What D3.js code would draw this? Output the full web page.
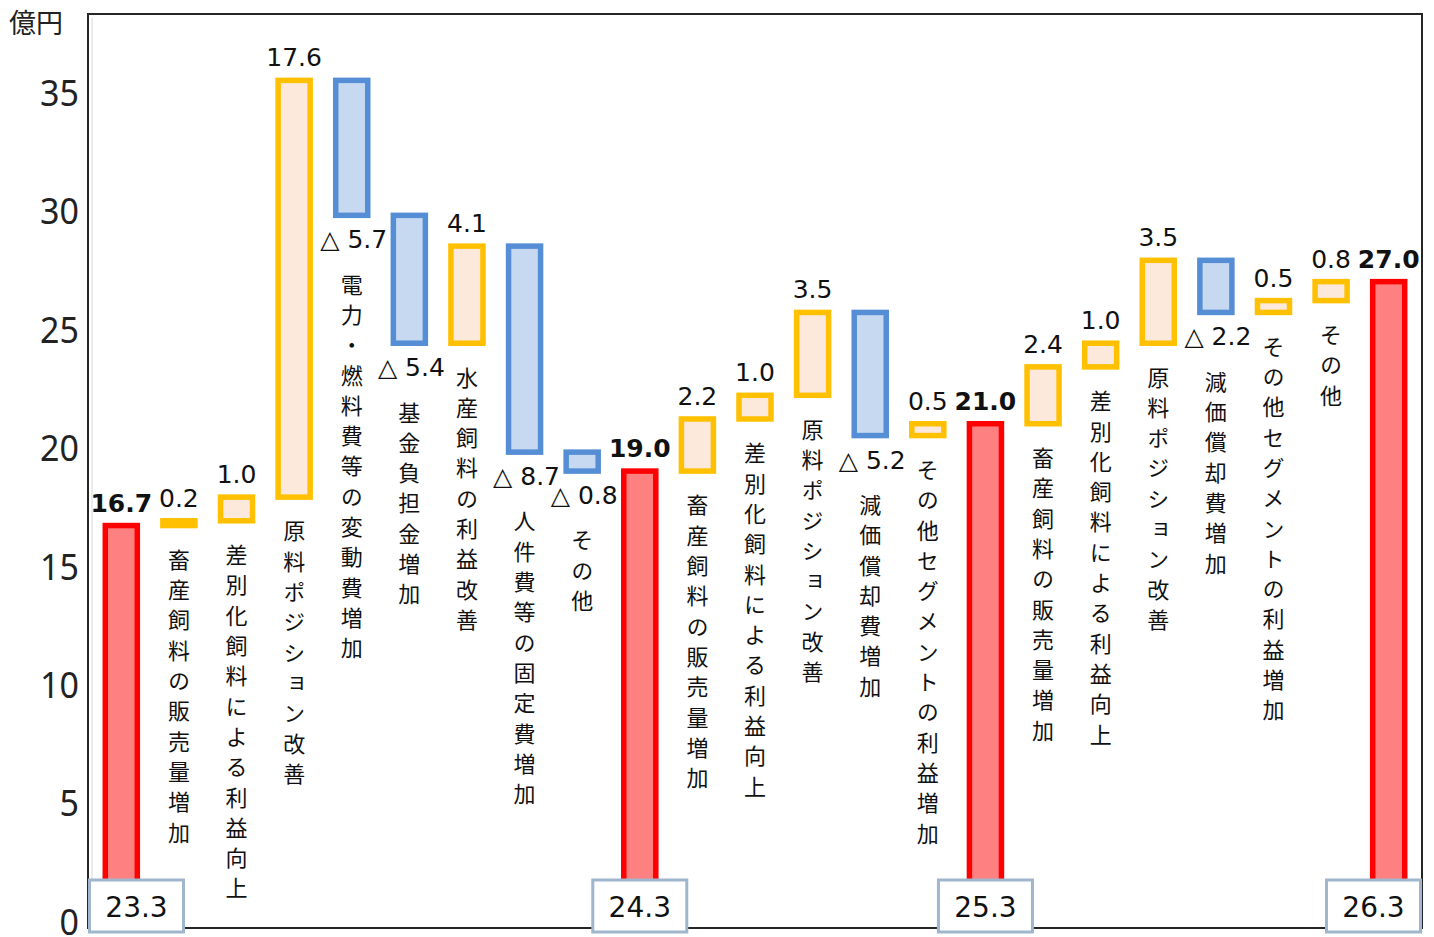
<!DOCTYPE html>
<html lang="ja">
<head>
<meta charset="utf-8">
<script src="https://cdn.jsdelivr.net/npm/d3@7"></script>
<style>
  html, body { margin: 0; padding: 0; background: #fff; }
  svg { display: block; }
</style>
</head>
<body>
<svg id="chart" width="1434" height="937"></svg>
<script>
// ---- data ----
const categories = [
  "", "畜産飼料の販売量増加", "差別化飼料による利益向上", "原料ポジション改善",
  "電力・燃料費等の変動費増加", "基金負担金増加", "水産飼料の利益改善",
  "人件費等の固定費増加", "その他",
  "", "畜産飼料の販売量増加", "差別化飼料による利益向上", "原料ポジション改善",
  "減価償却費増加", "その他セグメントの利益増加",
  "", "畜産飼料の販売量増加", "差別化飼料による利益向上", "原料ポジション改善",
  "減価償却費増加", "その他セグメントの利益増加", "その他",
  ""
];
const values = [16.7, 0.2, 1.0, 17.6, -5.7, -5.4, 4.1, -8.7, -0.8,
                19.0, 2.2, 1.0, 3.5, -5.2, 0.5,
                21.0, 2.4, 1.0, 3.5, -2.2, 0.5, 0.8,
                27.0];
const isTotal = [true, false, false, false, false, false, false, false, false,
                 true, false, false, false, false, false,
                 true, false, false, false, false, false, false,
                 true];
const periodLabels = ["23.3", "24.3", "25.3", "26.3"];
const yTicks = [0, 5, 10, 15, 20, 25, 30, 35];
const unitLabel = "億円";

// ---- build waterfall ----
let running = 0;
let p = 0;
const rows = values.map((v, i) => {
  let lo, hi, kind, period = null;
  if (isTotal[i]) {
    lo = 0; hi = v; running = v; kind = "total"; period = periodLabels[p++];
  } else {
    const start = running;
    running = +(running + v).toFixed(2);
    lo = Math.min(start, running); hi = Math.max(start, running);
    kind = v >= 0 ? "up" : "down";
  }
  return { i, cat: categories[i], v, lo, hi, kind, period };
});

// ---- layout ----
const svg = d3.select("#chart");
const plot = { left: 88, right: 1422, top: 14, bottom: 928 };
const y = d3.scaleLinear().domain([0, 35]).range([921, 92.2]);
const x = d3.scaleBand().domain(rows.map(d => d.i))
  .range([plot.left, plot.right]).paddingInner(0.444).paddingOuter(0.30);
const bw = x.bandwidth();
const cx = d => x(d.i) + bw / 2;

const style = {
  total: { fill: "#ff8080", stroke: "#ff0000" },
  up:    { fill: "#fde9dc", stroke: "#ffc000" },
  down:  { fill: "#c6d9f1", stroke: "#558ed5" }
};

// frame
svg.append("rect")
  .attr("x", plot.left).attr("y", plot.top)
  .attr("width", plot.right - plot.left).attr("height", plot.bottom - plot.top)
  .attr("fill", "none").attr("stroke", "#262626").attr("stroke-width", 2);
svg.append("line")
  .attr("x1", plot.left + 4).attr("x2", plot.left + 4)
  .attr("y1", plot.top + 4).attr("y2", plot.bottom - 2)
  .attr("stroke", "#e4e4e4").attr("stroke-width", 1.5);

// y axis
const yAxis = d3.axisLeft(y).tickValues(yTicks).tickSize(0).tickPadding(0);
const gy = svg.append("g").attr("transform", "translate(79,0)").call(yAxis);
gy.select(".domain").remove();
gy.selectAll("text")
  .attr("font-family", "'Noto Sans', sans-serif")
  .attr("font-size", 37).attr("fill", "#222")
  .attr("transform", "scale(0.92,1)").attr("dy", "0.36em");

svg.append("text").attr("x", 9).attr("y", 33)
  .attr("font-family", "'Noto Sans CJK JP', sans-serif")
  .attr("font-size", 27).attr("fill", "#222").text(unitLabel);

// bars
const sw = 5.5;
svg.append("g").selectAll("rect").data(rows).join("rect")
  .attr("x", d => x(d.i))
  .attr("y", d => y(d.hi))
  .attr("width", bw)
  .attr("height", d => Math.max(0.5, y(d.lo) - y(d.hi)))
  .attr("fill", d => style[d.kind].fill)
  .attr("stroke", d => style[d.kind].stroke)
  .attr("stroke-width", sw);

// value labels
const numFont = "'DejaVu Sans', Verdana, sans-serif";
svg.append("g").selectAll("text").data(rows).join("text")
  .attr("x", d => d.kind === "down" ? cx(d) + 2 : cx(d))
  .attr("y", d => d.kind === "down" ? y(d.lo) + 33 : y(d.hi) - 14)
  .attr("text-anchor", "middle")
  .attr("font-family", numFont)
  .attr("font-size", 25)
  .attr("font-weight", d => d.kind === "total" ? "bold" : "normal")
  .attr("fill", "#111")
  .text(d => d.kind === "down" ? "△ " + Math.abs(d.v).toFixed(1) : d.v.toFixed(1));

// category labels (vertical)
svg.append("g").selectAll("text").data(rows.filter(d => d.cat)).join("text")
  .attr("x", d => cx(d))
  .attr("y", d => d.kind === "down" ? y(d.lo) + 58 : y(d.lo) + 23)
  .attr("font-family", "'Noto Sans CJK JP', sans-serif")
  .attr("font-size", 22)
  .attr("fill", "#111")
  .style("writing-mode", "vertical-rl")
  .style("text-orientation", "upright")
  .style("letter-spacing", "8.3px")
  .text(d => d.cat);

// period boxes
const boxW = 94, boxH = 52, boxTop = 880;
const totals = rows.filter(d => d.kind === "total");
const boxes = svg.append("g").selectAll("g").data(totals).join("g")
  .attr("transform", d => {
    let left = cx(d) - boxW / 2;
    left = Math.max(plot.left + 1.5, Math.min(plot.right - 1.5 - boxW, left));
    return `translate(${left},${boxTop})`;
  });
boxes.append("rect").attr("width", boxW).attr("height", boxH)
  .attr("fill", "#fff").attr("stroke", "#9fb6cd").attr("stroke-width", 3);
boxes.append("text").attr("x", boxW / 2).attr("y", 37)
  .attr("text-anchor", "middle")
  .attr("font-family", numFont).attr("font-size", 28).attr("fill", "#111")
  .text(d => d.period);
</script>
</body>
</html>
